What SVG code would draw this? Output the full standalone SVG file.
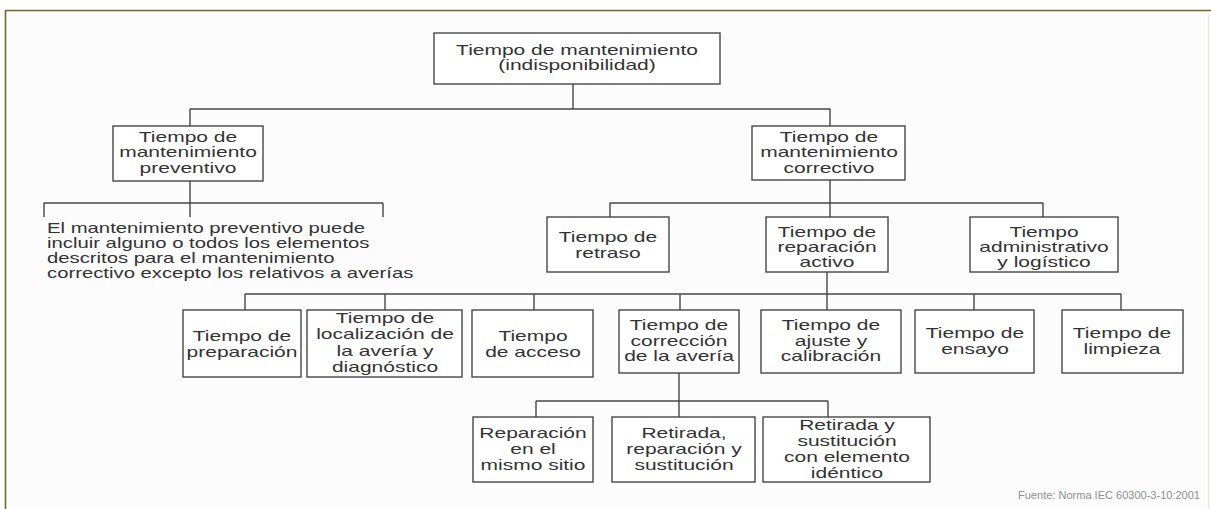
<svg xmlns="http://www.w3.org/2000/svg" width="1211" height="509" viewBox="0 0 1211 509">
  <style>
    .box { fill: #ffffff; stroke: #474747; stroke-width: 1.4; }
    .lbl { font-family: "Liberation Sans", Arial, sans-serif; font-size: 14px; fill: #333333; text-anchor: middle; }
    .para { font-family: "Liberation Sans", Arial, sans-serif; font-size: 14px; fill: #333333; }
    .src { font-family: "Liberation Sans", Arial, sans-serif; font-size: 10.5px; fill: #8f8f8f; text-anchor: end; }
    .wire { fill: none; stroke: #474747; stroke-width: 1.4; }
  </style>

  <!-- page background and frame -->
  <rect x="0" y="0" width="1211" height="509" fill="#ffffff"/>
  <rect x="6" y="11" width="1205" height="498" fill="#fcfcfc"/>
  <path d="M5.5 509 V10.5 H1211" fill="none" stroke="#6b6a2a" stroke-width="1.6"/>
  <path d="M1208.5 14 V509" fill="none" stroke="#ecebd6" stroke-width="1.5"/>

  <!-- connectors -->
  <g id="connectors" class="wire">
    <path d="M573 84 V109 M190 109 H830 M190 109 V126 M830 109 V126"/>
    <path d="M190 181 V203 M44 203 H383 M44 203 V217 M383 203 V217 M190 203 V217"/>
    <path d="M830 180 V217 M610 203 H1043 M610 203 V217 M1043 203 V217"/>
    <path d="M827 272 V310 M245 294 H1121 M245 294 V310 M385 294 V310 M534 294 V310 M680 294 V310 M974 294 V310 M1121 294 V310"/>
    <path d="M679 373 V417 M536 401 H828 M536 401 V417 M828 401 V417"/>
  </g>

  <g id="n-root">
    <rect class="box" x="434" y="33" width="286" height="51"/>
    <g transform="translate(577 0) scale(1.5 1)">
      <text class="lbl" x="0" y="55">Tiempo de mantenimiento</text>
      <text class="lbl" x="0" y="70">(indisponibilidad)</text>
    </g>
  </g>

  <g id="n-preventivo">
    <rect class="box" x="113" y="126" width="150" height="55"/>
    <g transform="translate(188 0) scale(1.5 1)">
      <text class="lbl" x="0" y="142">Tiempo de</text>
      <text class="lbl" x="0" y="157">mantenimiento</text>
      <text class="lbl" x="0" y="173">preventivo</text>
    </g>
  </g>

  <g id="n-correctivo">
    <rect class="box" x="752" y="126" width="153" height="54"/>
    <g transform="translate(829 0) scale(1.5 1)">
      <text class="lbl" x="0" y="142">Tiempo de</text>
      <text class="lbl" x="0" y="157">mantenimiento</text>
      <text class="lbl" x="0" y="173">correctivo</text>
    </g>
  </g>

  <g id="n-nota">
    <g transform="translate(47 0) scale(1.45 1)">
      <text class="para" x="0" y="233">El mantenimiento preventivo puede</text>
      <text class="para" x="0" y="248">incluir alguno o todos los elementos</text>
      <text class="para" x="0" y="263">descritos para el mantenimiento</text>
      <text class="para" x="0" y="278">correctivo excepto los relativos a averías</text>
    </g>
  </g>

  <g id="n-retraso">
    <rect class="box" x="547" y="217" width="122" height="55"/>
    <g transform="translate(608 0) scale(1.5 1)">
      <text class="lbl" x="0" y="242">Tiempo de</text>
      <text class="lbl" x="0" y="258">retraso</text>
    </g>
  </g>

  <g id="n-reparacion-activo">
    <rect class="box" x="766" y="217" width="122" height="55"/>
    <g transform="translate(827 0) scale(1.5 1)">
      <text class="lbl" x="0" y="237">Tiempo de</text>
      <text class="lbl" x="0" y="252">reparación</text>
      <text class="lbl" x="0" y="267">activo</text>
    </g>
  </g>

  <g id="n-administrativo">
    <rect class="box" x="970" y="217" width="148" height="55"/>
    <g transform="translate(1044 0) scale(1.5 1)">
      <text class="lbl" x="0" y="237">Tiempo</text>
      <text class="lbl" x="0" y="252">administrativo</text>
      <text class="lbl" x="0" y="267">y logístico</text>
    </g>
  </g>

  <g id="n-preparacion">
    <rect class="box" x="183" y="310" width="118" height="67"/>
    <g transform="translate(242 0) scale(1.5 1)">
      <text class="lbl" x="0" y="341">Tiempo de</text>
      <text class="lbl" x="0" y="357">preparación</text>
    </g>
  </g>

  <g id="n-localizacion">
    <rect class="box" x="307" y="310" width="155" height="67"/>
    <g transform="translate(385 0) scale(1.5 1)">
      <text class="lbl" x="0" y="323">Tiempo de</text>
      <text class="lbl" x="0" y="339">localización de</text>
      <text class="lbl" x="0" y="356">la avería y</text>
      <text class="lbl" x="0" y="372">diagnóstico</text>
    </g>
  </g>

  <g id="n-acceso">
    <rect class="box" x="472" y="310" width="121" height="67"/>
    <g transform="translate(533 0) scale(1.5 1)">
      <text class="lbl" x="0" y="341">Tiempo</text>
      <text class="lbl" x="0" y="357">de acceso</text>
    </g>
  </g>

  <g id="n-correccion">
    <rect class="box" x="619" y="310" width="120" height="63"/>
    <g transform="translate(679 0) scale(1.5 1)">
      <text class="lbl" x="0" y="330">Tiempo de</text>
      <text class="lbl" x="0" y="346">corrección</text>
      <text class="lbl" x="0" y="361">de la avería</text>
    </g>
  </g>

  <g id="n-ajuste">
    <rect class="box" x="761" y="310" width="140" height="63"/>
    <g transform="translate(831 0) scale(1.5 1)">
      <text class="lbl" x="0" y="330">Tiempo de</text>
      <text class="lbl" x="0" y="346">ajuste y</text>
      <text class="lbl" x="0" y="361">calibración</text>
    </g>
  </g>

  <g id="n-ensayo">
    <rect class="box" x="915" y="310" width="119" height="63"/>
    <g transform="translate(975 0) scale(1.5 1)">
      <text class="lbl" x="0" y="338">Tiempo de</text>
      <text class="lbl" x="0" y="354">ensayo</text>
    </g>
  </g>

  <g id="n-limpieza">
    <rect class="box" x="1062" y="310" width="121" height="63"/>
    <g transform="translate(1122 0) scale(1.5 1)">
      <text class="lbl" x="0" y="338">Tiempo de</text>
      <text class="lbl" x="0" y="354">limpieza</text>
    </g>
  </g>

  <g id="n-reparacion-sitio">
    <rect class="box" x="473" y="417" width="120" height="65"/>
    <g transform="translate(533 0) scale(1.5 1)">
      <text class="lbl" x="0" y="438">Reparación</text>
      <text class="lbl" x="0" y="454">en el</text>
      <text class="lbl" x="0" y="470">mismo sitio</text>
    </g>
  </g>

  <g id="n-retirada-reparacion">
    <rect class="box" x="612" y="417" width="143" height="65"/>
    <g transform="translate(684 0) scale(1.5 1)">
      <text class="lbl" x="0" y="438">Retirada,</text>
      <text class="lbl" x="0" y="454">reparación y</text>
      <text class="lbl" x="0" y="470">sustitución</text>
    </g>
  </g>

  <g id="n-retirada-sustitucion">
    <rect class="box" x="763" y="417" width="167" height="65"/>
    <g transform="translate(847 0) scale(1.5 1)">
      <text class="lbl" x="0" y="430">Retirada y</text>
      <text class="lbl" x="0" y="446">sustitución</text>
      <text class="lbl" x="0" y="462">con elemento</text>
      <text class="lbl" x="0" y="478">idéntico</text>
    </g>
  </g>

  <text class="src" x="1200" y="499" textLength="182" lengthAdjust="spacingAndGlyphs">Fuente: Norma IEC 60300-3-10:2001</text>
</svg>
